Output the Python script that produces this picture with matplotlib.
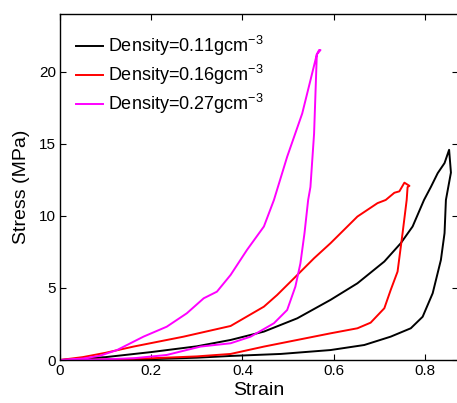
import matplotlib
matplotlib.use('Agg')
import matplotlib.pyplot as plt

plt.rcParams['font.family'] = ['Liberation Sans', 'DejaVu Sans']
plt.rcParams['mathtext.fontset'] = 'custom'
plt.rcParams['mathtext.rm'] = 'Liberation Sans'

# loading branch followed by unloading branch for each foam density
strain_011 = [0, 0.1, 0.2, 0.3, 0.374, 0.447, 0.52, 0.593, 0.652, 0.711, 0.747, 0.773,
              0.798, 0.813, 0.828, 0.843, 0.853, 0.857, 0.846, 0.843, 0.835, 0.817,
              0.795, 0.769, 0.725, 0.667, 0.593, 0.484, 0.374, 0.3, 0.2, 0.1, 0]
stress_011 = [0, 0.2, 0.55, 0.95, 1.39, 1.97, 2.89, 4.17, 5.32, 6.83, 8.1, 9.26,
              11.1, 12.0, 12.96, 13.66, 14.58, 13.0, 11.1, 8.8, 6.94, 4.63,
              3.0, 2.2, 1.62, 1.04, 0.69, 0.42, 0.28, 0.16, 0.06, 0.02, 0]

strain_016 = [0, 0.05, 0.1, 0.161, 0.271, 0.374, 0.447, 0.476, 0.513, 0.557, 0.593,
              0.652, 0.696, 0.714, 0.733, 0.744, 0.755, 0.766, 0.762, 0.76, 0.751,
              0.74, 0.725, 0.711, 0.681, 0.652, 0.593, 0.52, 0.447, 0.374, 0.3,
              0.2, 0.1, 0]
stress_016 = [0, 0.2, 0.5, 0.93, 1.62, 2.36, 3.7, 4.51, 5.67, 7.06, 8.1,
              9.95, 10.88, 11.1, 11.6, 11.7, 12.3, 12.08, 12.0, 11.1, 8.8,
              6.13, 4.86, 3.59, 2.59, 2.2, 1.85, 1.39, 0.93, 0.42, 0.25,
              0.12, 0.04, 0]

strain_027 = [0, 0.05, 0.088, 0.125, 0.183, 0.234, 0.278, 0.315, 0.344, 0.374, 0.41,
              0.447, 0.469, 0.498, 0.531, 0.549, 0.563, 0.568, 0.571, 0.563, 0.557,
              0.549, 0.544, 0.536, 0.527, 0.516, 0.498, 0.469, 0.418, 0.374,
              0.308, 0.234, 0.161, 0.08, 0]
stress_027 = [0, 0.1, 0.3, 0.69, 1.62, 2.31, 3.24, 4.28, 4.74, 5.9, 7.64,
              9.26, 11.1, 14.1, 17.1, 19.4, 21.2, 21.5, 21.5, 21.2, 15.7,
              12.0, 11.1, 8.8, 6.7, 5.09, 3.47, 2.55, 1.62, 1.16,
              0.93, 0.35, 0.12, 0.03, 0]

labels = ['Density=0.11gcm$^{-3}$', 'Density=0.16gcm$^{-3}$', 'Density=0.27gcm$^{-3}$']
colors = ['black', 'red', 'magenta']

fig = plt.figure(figsize=(4.57, 4.03), dpi=100)
ax = fig.add_axes([60/457, 43/403, 398/457, 346/403])

for sx, sy, lab, c in zip([strain_011, strain_016, strain_027],
                          [stress_011, stress_016, stress_027], labels, colors):
    ax.plot(sx, sy, color=c, lw=1.4, label=lab)

ax.set_xlim(0, 0.8725)
ax.set_ylim(0, 24)
ax.set_xticks([0, 0.2, 0.4, 0.6, 0.8])
ax.set_xticklabels(['0', '0.2', '0.4', '0.6', '0.8'])
ax.set_yticks([0, 5, 10, 15, 20])
ax.set_yticklabels(['0', '5', '10', '15', '20'])
ax.tick_params(direction='in', top=True, right=True, labelsize=11, length=4, pad=3)
for s in ax.spines.values():
    s.set_linewidth(1.0)

ax.set_xlabel('Strain', fontsize=14, labelpad=3)
ax.set_ylabel('Stress (MPa)', fontsize=14, labelpad=6)

ax.legend(loc='upper left', frameon=False, fontsize=13, handlelength=1.5,
          handletextpad=0.3, labelspacing=0.28, borderaxespad=0, borderpad=0,
          bbox_to_anchor=(0.04, 0.942))

fig.savefig('out.png', dpi=100)
